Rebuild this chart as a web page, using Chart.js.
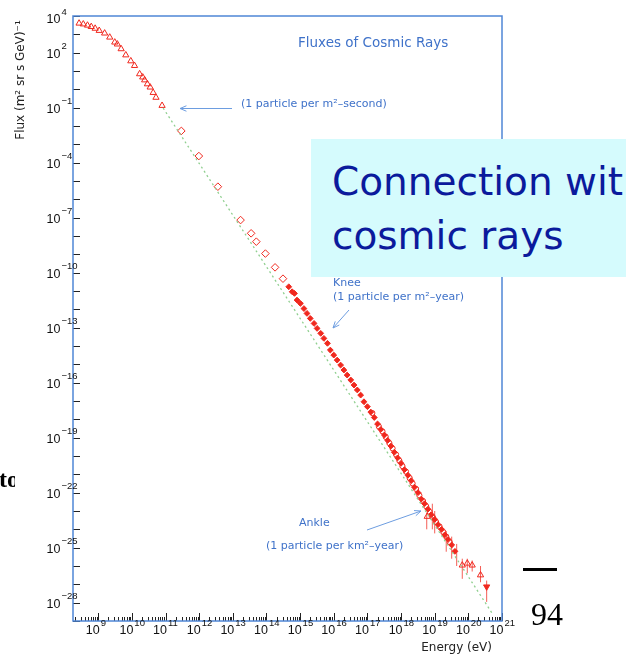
<!DOCTYPE html>
<html lang="en">
<head>
    <title>Fluxes of Cosmic Rays</title>
    <meta charset="UTF-8">
    <script src="https://cdn.jsdelivr.net/npm/chart.js@4/dist/chart.umd.min.js"></script>
    <style>
        body {margin:0;padding:0;background:#fff;}
        #wrap {position:relative;width:626px;height:654px;overflow:hidden;}
        #fluxChart {position:absolute;left:0;top:0;}
        .box {position:absolute;left:311px;top:139px;width:330px;height:138px;background:#d5fbfd;}
        .box div {position:absolute;left:21px;font-family:"Comic Sans MS","DejaVu Sans",sans-serif;font-size:39px;color:#0b1a9c;white-space:nowrap;}
        .side {position:absolute;left:-1px;top:466px;width:16px;overflow:hidden;font:bold 24px "Liberation Serif",serif;color:#000;}
        .rule {position:absolute;left:523px;top:568px;width:34px;height:3px;background:#000;}
        .page {position:absolute;left:531px;top:596px;font:32px "Liberation Serif",serif;color:#000;}
    </style>
</head>
<body>
<div id="wrap">
    <canvas id="fluxChart" width="626" height="654"></canvas>
    <div class="side">to</div>
    <div class="box">
        <div style="top:20px">Connection wit</div>
        <div style="top:74px">cosmic rays</div>
    </div>
    <div class="rule"></div>
    <div class="page">94</div>
</div>
<script>
    // low energy points (open triangles)
    const triE = [2.7e8, 3.6e8, 4.8e8, 6.2e8, 8.1e8, 1.07e9, 1.55e9, 2.2e9, 3.1e9, 3.7e9, 4.8e9,
        6.6e9, 9.3e9, 1.2e10, 1.7e10, 2.1e10, 2.4e10, 2.9e10, 3.5e10, 4.3e10, 5.2e10, 7.9e10];
    const triF = [4.0e3, 3.6e3, 3.1e3, 2.6e3, 2.1e3, 1.6e3, 1.15e3, 6.9e2, 3.7e2, 2.9e2, 1.6e2,
        74, 35, 19.5, 6.9, 4.6, 3.2, 1.95, 1.3, 0.66, 0.36, 0.13];

    // open diamonds
    const diaE = [2.95e11, 9.8e11, 3.6e12, 1.7e13, 3.5e13, 5.0e13, 9.3e13, 1.8e14, 3.1e14];
    const diaF = [5.4e-3, 2.3e-4, 4.9e-6, 7.4e-8, 1.4e-8, 4.9e-9, 1.1e-9, 1.95e-10, 4.7e-11];

    // filled points, knee to ankle
    const fillE = [4.6e14, 5.8e14, 6.8e14, 8.1e14, 1.02e15, 1.3e15, 1.6e15, 2.0e15, 2.6e15, 3.2e15,
        4.1e15, 5.1e15, 6.5e15, 7.9e15, 1.0e16, 1.26e16, 1.6e16, 2.0e16, 2.5e16, 3.2e16, 4.0e16,
        5.0e16, 6.3e16, 7.9e16, 1.0e17, 1.26e17, 1.6e17, 2.0e17, 2.5e17, 3.2e17, 4.0e17, 5.0e17,
        6.3e17, 7.9e17, 1.0e18, 1.26e18, 1.6e18, 2.0e18, 2.5e18, 3.2e18, 4.0e18, 5.0e18, 6.3e18,
        7.9e18, 1.0e19, 1.26e19, 1.6e19, 2.0e19, 2.5e19, 3.2e19, 4.0e19];
    const fillF = [1.7e-11, 9.1e-12, 7.4e-12, 3.2e-12, 2.1e-12, 1.1e-12, 6.0e-13, 3.2e-13, 1.7e-13, 9.1e-14,
        4.9e-14, 2.6e-14, 1.4e-14, 6.0e-15, 3.2e-15, 1.7e-15, 9.1e-16, 4.9e-16, 2.6e-16, 1.4e-16, 7.4e-17,
        4.0e-17, 2.1e-17, 9.1e-18, 4.9e-18, 2.5e-18, 1.26e-18, 5.6e-19, 2.8e-19, 1.4e-19, 7.1e-20, 3.5e-20,
        1.6e-20, 7.9e-21, 4.0e-21, 1.8e-21, 8.9e-22, 4.5e-22, 2.0e-22, 1.0e-22, 4.5e-23, 2.5e-23, 1.26e-23,
        6.3e-24, 3.5e-24, 1.8e-24, 1.0e-24, 5.0e-25, 2.8e-25, 1.4e-25, 6.3e-26];

    // open circles around the ankle
    const circE = [1.4e17, 2.2e17, 2.8e17, 3.5e17, 4.5e17, 5.6e17, 7.1e17, 8.9e17, 1.1e18, 1.4e18,
        1.8e18, 2.2e18, 2.8e18, 3.5e18, 4.5e18, 5.6e18, 7.1e18, 8.9e18, 1.1e19, 1.4e19, 1.8e19, 2.2e19, 2.8e19];
    const circF = [2.2e-18, 4.0e-19, 2.2e-19, 1.1e-19, 5.0e-20, 2.6e-20, 1.2e-20, 5.6e-21, 2.8e-21, 1.4e-21,
        6.3e-22, 3.2e-22, 1.6e-22, 7.1e-23, 3.5e-23, 1.8e-23, 8.9e-24, 4.5e-24, 2.5e-24, 1.4e-24, 7.1e-25, 4.0e-25, 2.0e-25];

    // highest energies
    const hiTriE = [6.0e18, 6.6e19, 9.3e19, 1.3e20, 2.3e20];
    const hiTriF = [5.0e-24, 1.1e-26, 1.4e-26, 1.1e-26, 3.2e-27];
    const limE = [3.5e20];
    const limF = [7.4e-28];

    // error bars
    const errE = [5.8e18, 8.5e18, 1.0e19, 2.2e19, 3.2e19, 4.5e19, 6.6e19, 9.3e19, 1.3e20, 2.3e20, 3.5e20];
    const errHi = [8e-24, 2.5e-23, 1.0e-23, 8e-25, 4e-25, 1.6e-25, 2.5e-26, 2.5e-26, 2.0e-26, 1.0e-26, 1.6e-27];
    const errLo = [1.0e-24, 1.0e-24, 6e-25, 6e-26, 2.5e-26, 1.0e-26, 2.0e-27, 4.0e-27, 5.0e-27, 1.3e-27, 1.1e-28];

    // reference power law (dotted)
    const refE = [8.5e10, 5.2e20];
    const refF = [9.5e-2, 2.5e-29];

    const yLabelExp = [4, 2, -1, -4, -7, -10, -13, -16, -19, -22, -25, -28];
    const xLabelExp = [9, 10, 11, 12, 13, 14, 15, 16, 17, 18, 19, 20, 21];

    const red = 'rgb(240,40,30)';
    const blue = '#3f72c9';
    const frameBlue = '#4f86d6';
    const pts = (xs, ys) => xs.map((v, i) => ({x: v, y: ys[i]}));
    const sup = (n) => (n < 0 ? '\u2212' + (-n) : '' + n);

    function arrow(ctx, x1, y1, x2, y2) {
        const ang = Math.atan2(y2 - y1, x2 - x1);
        ctx.beginPath();
        ctx.moveTo(x1, y1);
        ctx.lineTo(x2, y2);
        ctx.moveTo(x2 - 7 * Math.cos(ang - 0.4), y2 - 7 * Math.sin(ang - 0.4));
        ctx.lineTo(x2, y2);
        ctx.lineTo(x2 - 7 * Math.cos(ang + 0.4), y2 - 7 * Math.sin(ang + 0.4));
        ctx.stroke();
    }

    const decor = {
        id: 'decor',
        beforeDatasetsDraw(chart) {
            const {ctx, chartArea: a, scales: {x, y}} = chart;
            ctx.save();
            ctx.strokeStyle = '#222';
            ctx.lineWidth = 1;
            ctx.beginPath();
            for (let e = -29; e <= 4; e++) {
                const py = Math.round(y.getPixelForValue(Math.pow(10, e))) + 0.5;
                ctx.moveTo(a.left, py);
                ctx.lineTo(a.left + 7, py);
            }
            for (let e = 8; e <= 21; e++) {
                for (let m = 1; m <= 9; m++) {
                    const v = m * Math.pow(10, e);
                    if (v < x.min || v > x.max) continue;
                    const px = Math.round(x.getPixelForValue(v)) + 0.5;
                    ctx.moveTo(px, a.bottom);
                    ctx.lineTo(px, a.bottom - (m === 1 ? 8 : 4));
                }
            }
            ctx.stroke();
            ctx.strokeStyle = frameBlue;
            ctx.lineWidth = 1.5;
            ctx.strokeRect(a.left, a.top, a.right - a.left, a.bottom - a.top);

            // error bars
            ctx.strokeStyle = 'rgba(240,40,30,0.75)';
            ctx.lineWidth = 1;
            ctx.beginPath();
            errE.forEach((e, i) => {
                const px = x.getPixelForValue(e);
                ctx.moveTo(px, y.getPixelForValue(errHi[i]));
                ctx.lineTo(px, y.getPixelForValue(errLo[i]));
            });
            ctx.stroke();
            ctx.restore();
        },
        afterDraw(chart) {
            const {ctx, chartArea: a, scales: {x, y}} = chart;
            ctx.save();
            ctx.fillStyle = '#111';
            ctx.textBaseline = 'middle';
            yLabelExp.forEach((e) => {
                const py = Math.max(y.getPixelForValue(Math.pow(10, e)) + 1.5, 20);
                ctx.font = '12.5px "Liberation Sans", Arial, sans-serif';
                ctx.textAlign = 'right';
                ctx.fillText('10', 60.5, py);
                ctx.font = '9.5px "Liberation Sans", Arial, sans-serif';
                ctx.textAlign = 'left';
                ctx.fillText(sup(e), 61.5, py - 8);
            });
            xLabelExp.forEach((e) => {
                const px = x.getPixelForValue(Math.pow(10, e));
                ctx.font = '12.5px "Liberation Sans", Arial, sans-serif';
                ctx.textAlign = 'right';
                ctx.fillText('10', px + 1.5, a.bottom + 10);
                ctx.font = '9.5px "Liberation Sans", Arial, sans-serif';
                ctx.textAlign = 'left';
                ctx.fillText(sup(e), px + 2.5, a.bottom + 2.5);
            });

            ctx.font = '12px "DejaVu Sans", sans-serif';
            ctx.textAlign = 'right';
            ctx.fillStyle = '#222';
            ctx.fillText('Energy (eV)', 492, 648);
            ctx.save();
            ctx.translate(21, 80);
            ctx.rotate(-Math.PI / 2);
            ctx.textAlign = 'center';
            ctx.font = '12px "DejaVu Sans", sans-serif';
            ctx.fillText('Flux (m\u00b2 sr s GeV)\u207b\u00b9', 0, 0);
            ctx.restore();

            // annotations
            ctx.fillStyle = blue;
            ctx.textAlign = 'left';
            ctx.font = '13.5px "DejaVu Sans", sans-serif';
            ctx.fillText('Fluxes of Cosmic Rays', 298, 43.5);
            ctx.font = '11px "DejaVu Sans", sans-serif';
            ctx.fillText('(1 particle per m\u00b2\u2013second)', 241, 104);
            ctx.fillText('Knee', 333, 283);
            ctx.fillText('(1 particle per m\u00b2\u2013year)', 333, 297.5);
            ctx.fillText('Ankle', 299, 523);
            ctx.fillText('(1 particle per km\u00b2\u2013year)', 266, 546);
            ctx.strokeStyle = '#6d9de0';
            ctx.lineWidth = 1;
            arrow(ctx, 232, 108.5, 180, 108.5);
            arrow(ctx, 349, 310, 333, 328);
            arrow(ctx, 367, 530, 421, 511);
            ctx.restore();
        }
    };

    const open = 'rgba(0,0,0,0)';
    const ctx = document.getElementById('fluxChart');
    const fluxChart = new Chart(ctx, {
        type: 'scatter',
        data: {
            datasets: [
                {data: pts(refE, refF), showLine: true, borderColor: '#8fcf8f', borderWidth: 1.3,
                    borderDash: [2, 3], pointRadius: 0},
                {data: pts(triE, triF), pointStyle: 'triangle', pointRadius: 3.6, borderColor: red,
                    backgroundColor: open, borderWidth: 1},
                {data: pts(diaE, diaF), pointStyle: 'rectRot', pointRadius: 3.8, borderColor: red,
                    backgroundColor: open, borderWidth: 1},
                {data: pts(circE, circF), pointStyle: 'circle', pointRadius: 2.6, borderColor: red,
                    backgroundColor: open, borderWidth: 1},
                {data: pts(fillE, fillF), pointStyle: 'rectRot', pointRadius: 2.9, borderColor: red,
                    backgroundColor: red, borderWidth: 1},
                {data: pts(hiTriE, hiTriF), pointStyle: 'triangle', pointRadius: 3.6, borderColor: red,
                    backgroundColor: open, borderWidth: 1},
                {data: pts(limE, limF), pointStyle: 'triangle', rotation: 180, pointRadius: 3.6,
                    borderColor: red, backgroundColor: red, borderWidth: 1}
            ]
        },
        options: {
            responsive: false,
            animation: false,
            devicePixelRatio: 1,
            layout: {padding: {top: 16, right: 124, left: 0, bottom: 0}},
            plugins: {legend: {display: false}, tooltip: {enabled: false}},
            scales: {
                x: {
                    type: 'logarithmic', min: 1.78e8, max: 1e21,
                    grid: {display: false}, border: {display: false},
                    ticks: {display: false},
                    afterFit: (s) => { s.height = 33; }
                },
                y: {
                    type: 'logarithmic', min: 1e-29, max: 1e4,
                    grid: {display: false}, border: {display: false},
                    ticks: {display: false},
                    afterFit: (s) => { s.width = 73; }
                }
            }
        },
        plugins: [decor]
    });
</script>
</body>
</html>
